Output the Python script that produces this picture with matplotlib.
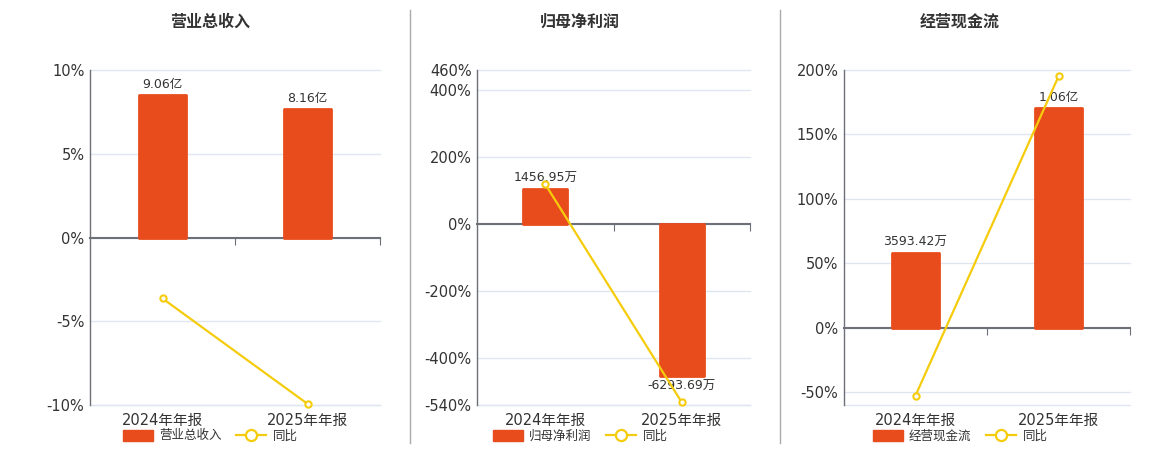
import numpy as np
import matplotlib
matplotlib.use("Agg")
import matplotlib.pyplot as plt
from matplotlib.lines import Line2D
from matplotlib.patches import Patch
from matplotlib.transforms import blended_transform_factory

plt.rcParams['font.family'] = ['DejaVu Sans', 'Noto Sans CJK SC']

# data
periods = ['2024年年报', '2025年年报']
titles = ['营业总收入', '归母净利润', '经营现金流']
bar_values = [[9.06, 8.16], [1456.95, -6293.69], [3593.42, 10600.0]]
bar_labels = [['9.06亿', '8.16亿'], ['1456.95万', '-6293.69万'], ['3593.42万', '1.06亿']]
yoy = [[-3.64, -9.93], [119.0, -532.0], [-52.7, 195.0]]
pct_ticks = [[10, 5, 0, -5, -10], [460, 400, 200, 0, -200, -400, -540], [200, 150, 100, 50, 0, -50]]
pct_lim = [(-10, 10), (-540, 460), (-60, 200)]
bar_lim = [(-10.64, 10.64), (-7512, 6391), (-3711, 12436)]

BAR = '#e84c1c'
LINE = '#f5cc0c'
AXC = '#6e7079'
GRID = '#e0e6f1'
TXT = '#333333'

W, H = 1160, 450
fig = plt.figure(figsize=(W / 100, H / 100), dpi=100)

# plot areas in pixels: left, width
areas = [(90, 290), (477, 273), (844, 286)]
title_x = [210, 580, 960]
legend_x = [210, 580, 960]

x = np.arange(len(periods))
for k in range(3):
    l, w = areas[k]
    rect = [l / W, 1 - 405 / H, w / W, 335 / H]
    ax = fig.add_axes(rect)
    ax.set_xlim(-0.5, 1.5)
    ax.set_ylim(*pct_lim[k])
    ax.set_yticks(pct_ticks[k])
    ax.set_yticklabels([f'{t}%' for t in pct_ticks[k]])
    ax.tick_params(axis='y', length=0, pad=4, labelsize=10.5, labelcolor=TXT)
    for t in pct_ticks[k] + [pct_lim[k][0]]:
        ax.axhline(t, color=GRID, lw=1, zorder=0, clip_on=False)
    for s in ['top', 'right']:
        ax.spines[s].set_visible(False)
    ax.spines['bottom'].set_position(('data', 0))
    ax.spines['bottom'].set_color(AXC)
    ax.spines['bottom'].set_linewidth(1.5)
    ax.spines['left'].set_color(AXC)
    ax.spines['left'].set_linewidth(1)
    ax.set_xticks([0.5, 1.5])
    ax.set_xticklabels([])
    ax.tick_params(axis='x', length=5, color=AXC, direction='out')
    trans = blended_transform_factory(ax.transData, ax.transAxes)
    for i, p in enumerate(periods):
        ax.text(i, -0.045, p, transform=trans, ha='center', va='center',
                fontsize=10.5, color=TXT)

    # bars on hidden twin
    axb = ax.twinx()
    axb.set_ylim(*bar_lim[k])
    axb.set_xlim(-0.5, 1.5)
    axb.axis('off')
    bars = axb.bar(x, bar_values[k], width=0.325, color=BAR, edgecolor=BAR,
                   linewidth=2, joinstyle='round', zorder=2)
    axb.bar_label(bars, labels=bar_labels[k], padding=3, fontsize=9, color=TXT)

    # yoy line on top
    axl = ax.twinx()
    axl.set_ylim(*pct_lim[k])
    axl.set_xlim(-0.5, 1.5)
    axl.axis('off')
    axl.plot(x, yoy[k], color=LINE, lw=1.6, marker='o', markersize=4.5,
             markerfacecolor='white', markeredgecolor=LINE, markeredgewidth=1.5,
             clip_on=False)

    fig.text(title_x[k] / W, 1 - 22 / H, titles[k], ha='center', va='center',
             fontsize=11.5, fontweight='bold', color=TXT)

    handles = [Patch(facecolor=BAR, edgecolor=BAR, label=titles[k]),
               Line2D([], [], color=LINE, lw=1.6, marker='o', markersize=8,
                      markerfacecolor='white', markeredgecolor=LINE,
                      markeredgewidth=1.6, label='同比')]
    fig.legend(handles=handles, loc='center', ncol=2, frameon=False,
               bbox_to_anchor=(legend_x[k] / W, 1 - 436 / H), fontsize=9,
               handlelength=2.4, handleheight=1.0, handletextpad=0.5,
               columnspacing=1.2, labelcolor=TXT, borderpad=0)

# separators
for sx in [410, 780]:
    fig.add_artist(Line2D([sx / W, sx / W], [1 - 10 / H, 1 - 443 / H],
                          color='#aaaaaa', lw=1))

fig.savefig('out.png', dpi=100)
